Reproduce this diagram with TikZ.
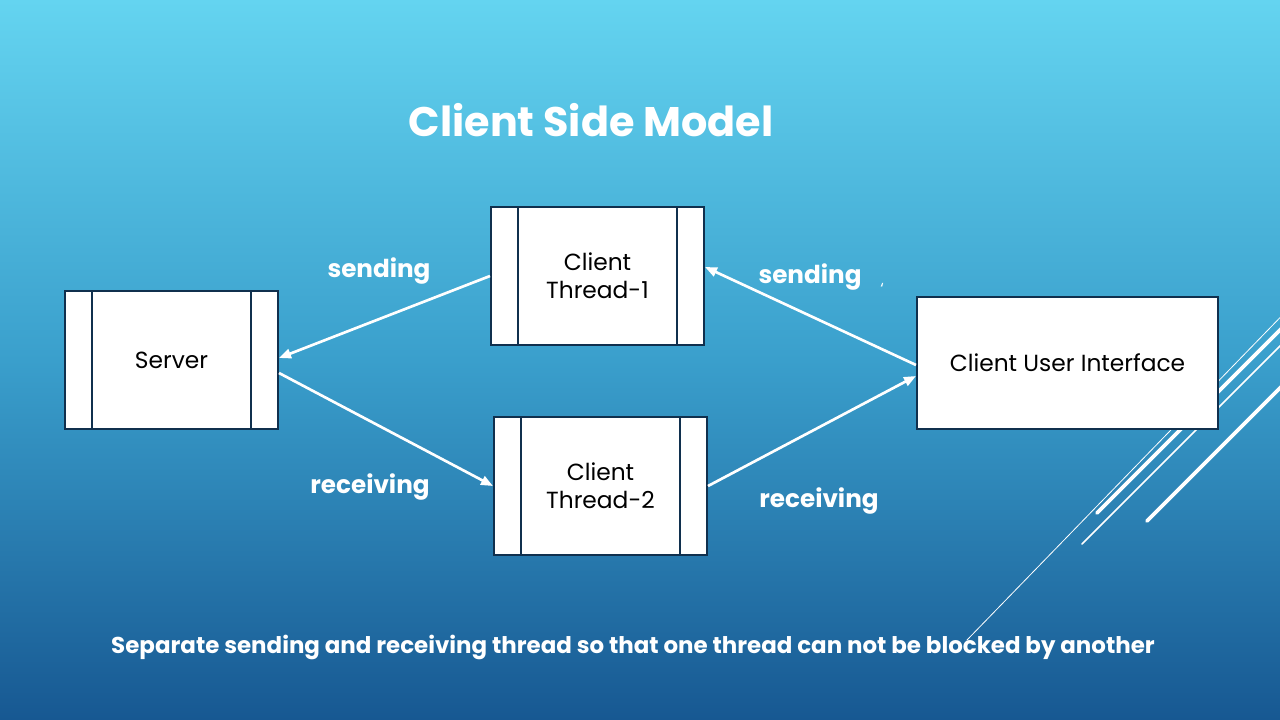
\documentclass[tikz,border=0pt]{standalone}
\usepackage{fontspec}
\setmainfont{Poppins}
\usetikzlibrary{arrows.meta}

\definecolor{bgtop}{HTML}{64D4F0}
\definecolor{bgmid}{HTML}{3A9FCC}
\definecolor{bgbot}{HTML}{175892}
\definecolor{boxline}{HTML}{10304E}

\tikzset{
  procbox/.style={draw=boxline, line width=1.5pt, fill=white, text=black,
    font=\fontsize{17.5}{21}\selectfont, align=center,
    minimum width={213*0.75pt}, minimum height={138*0.75pt},
    path picture={
      \draw[boxline, line width=1.2pt]
        ([xshift={27*0.75pt}]path picture bounding box.north west) --
        ([xshift={27*0.75pt}]path picture bounding box.south west)
        ([xshift={-27*0.75pt}]path picture bounding box.north east) --
        ([xshift={-27*0.75pt}]path picture bounding box.south east);
    }},
  plainbox/.style={draw=boxline, line width=1.5pt, fill=white, text=black,
    font=\fontsize{17.5}{21}\selectfont, align=center,
    minimum width={301*0.75pt}, minimum height={132*0.75pt}},
  flow/.style={white, line width=2pt, -{Triangle[length=9pt,width=7pt]}},
  flowlabel/.style={text=white, font=\fontsize{18.5}{22}\selectfont\bfseries},
  deco/.style={white, line cap=round},
}

\begin{document}
\begin{tikzpicture}[x=0.75pt, y=-0.75pt]
  \useasboundingbox (0,0) rectangle (1280,720);
  % slide background
  \shade[top color=bgtop, bottom color=bgbot, middle color=bgmid] (0,0) rectangle (1280,720);

  % diagonal accent strokes on the right edge
  \begin{scope}
    \clip (0,0) rectangle (1280,720);
    \draw[deco, line width=0.6pt] (967,640) -- (1300,297);
    \draw[deco, line width=2.8pt] (1097,513) -- (1300,310);
    \draw[deco, line width=1.1pt] (1082,544) -- (1300,326);
    \draw[deco, line width=2.8pt] (1147,521) -- (1300,368);
  \end{scope}

  % title
  \node[text=white, font=\fontsize{31}{37}\selectfont\bfseries] (title) at (591,120) {Client Side Model};

  % process boxes
  \node[procbox] (srv) at (171.5,360) {Server};
  \node[procbox] (t1) at (597.5,276) {Client\\Thread-1};
  \node[procbox] (t2) at (600.5,486) {Client\\Thread-2};
  \node[plainbox] (ui) at (1067.5,363) {Client User Interface};

  % message flows (yshift is in absolute units, positive = up)
  \draw[flow] (t1.west) -- ([yshift={2*0.75pt}]srv.east);
  \draw[flow] ([yshift={-13*0.75pt}]srv.east) -- (t2.west);
  \draw[flow] ([yshift={-2*0.75pt}]ui.west) -- ([yshift={9*0.75pt}]t1.east);
  \draw[flow] (t2.east) -- ([yshift={-13*0.75pt}]ui.west);

  % flow labels
  \node[flowlabel] (ls1) at (379,271) {sending};
  \node[flowlabel] (lr1) at (370,487) {receiving};
  \node[flowlabel] (ls2) at (810,277) {sending};
  \node[flowlabel] (lr2) at (819,501) {receiving};
  \node[text=white, font=\fontsize{12}{14}\selectfont] (tick) at (882,289) {`};

  % caption
  \node[text=white, font=\fontsize{17.2}{20}\selectfont\bfseries] (caption) at (633,647)
    {Separate sending and receiving thread so that one thread can not be blocked by another};
\end{tikzpicture}
\end{document}
